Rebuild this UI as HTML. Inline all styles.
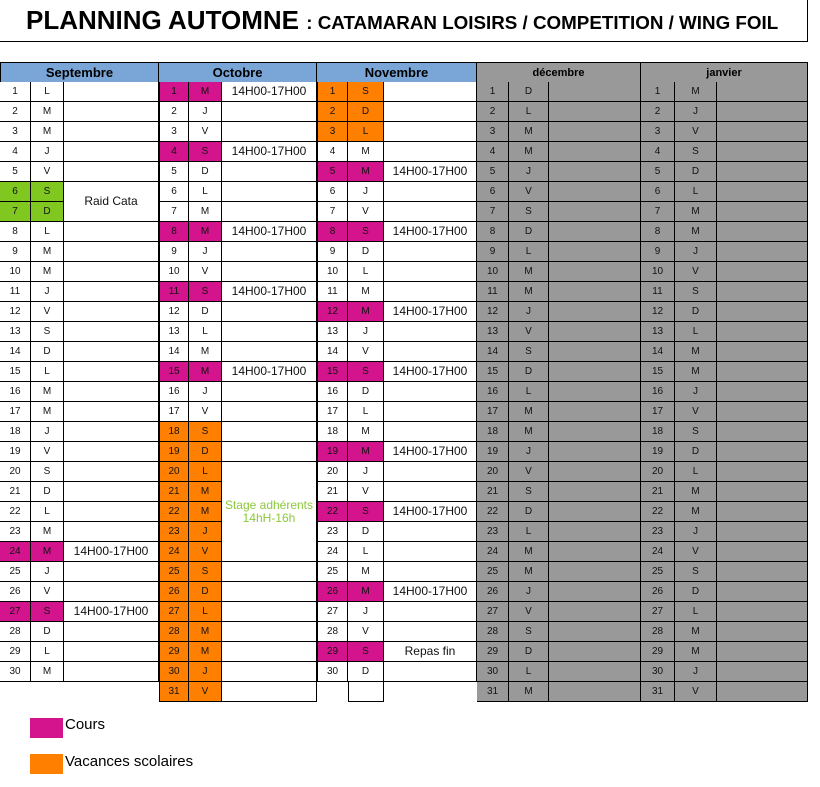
<!DOCTYPE html>
<html><head><meta charset="utf-8"><style>
body{margin:0;background:#fff;width:820px;height:787px;position:relative;overflow:hidden;font-family:"Liberation Sans",Arial,sans-serif}
.c{position:absolute;box-sizing:border-box;border-right:1px solid #000;border-bottom:1px solid #000;text-align:center;font-size:10px;line-height:19px;color:#111}
.h{position:absolute;box-sizing:border-box;text-align:center;font-weight:bold;font-size:13px;line-height:20px;border-right:1px solid #000;border-bottom:1px solid #000;border-top:1px solid #000}
.n{font-size:12px}
</style></head><body>
<div style="position:absolute;left:0;top:0;width:808px;height:42px;border-right:1px solid #000;border-bottom:1px solid #000;box-sizing:border-box"></div>
<div style="position:absolute;left:26px;top:5px;font-weight:bold;font-size:26px;white-space:nowrap">PLANNING AUTOMNE <span style="font-size:18.8px">: CATAMARAN LOISIRS / COMPETITION / WING FOIL</span></div>
<div id="t"></div>
<div style="position:absolute;left:30px;top:718px;width:33px;height:20px;background:#d4148c"></div>
<div style="position:absolute;left:65px;top:716px;font-size:15px">Cours</div>
<div style="position:absolute;left:30px;top:754px;width:33px;height:20px;background:#ff8000"></div>
<div style="position:absolute;left:65px;top:753px;font-size:15px">Vacances scolaires</div>
<script>
var P='#d4148c',O='#ff8000',G='#80c820',GR='#999999',W='#fff';
var months=[
 {name:'Septembre',x:[0,31,64,159],hb:'#79a6d6',days:30,cyc:'LMMJVSD',bg:W,hl:{6:G,7:G,24:P,27:P},notes:{24:'14H00-17H00',27:'14H00-17H00'},merge:{6:[2,'Raid Cata']}},
 {name:'Octobre',x:[159,189,222,317],hb:'#79a6d6',days:31,cyc:'MJVSDLM',bg:W,hl:{1:P,4:P,8:P,11:P,15:P},notes:{1:'14H00-17H00',4:'14H00-17H00',8:'14H00-17H00',11:'14H00-17H00',15:'14H00-17H00'},merge:{20:[5,'Stage adhérents<br>14hH-16h']}},
 {name:'Novembre',x:[317,348,384,477],hb:'#79a6d6',days:30,cyc:'SDLMMJV',bg:W,hl:{1:O,2:O,3:O,5:P,8:P,12:P,15:P,19:P,22:P,26:P,29:P},notes:{5:'14H00-17H00',8:'14H00-17H00',12:'14H00-17H00',15:'14H00-17H00',19:'14H00-17H00',22:'14H00-17H00',26:'14H00-17H00',29:'Repas fin'},merge:{}},
 {name:'décembre',x:[477,509,549,641],hb:GR,days:31,cyc:'DLMMJVS',bg:GR,hl:{},notes:{},merge:{}},
 {name:'janvier',x:[641,675,717,808],hb:GR,days:31,cyc:'MJVSDLM',bg:GR,hl:{},notes:{},merge:{}}
];
for(var d=18;d<=31;d++)months[1].hl[d]=O;
var h='';
months.forEach(function(m,mi){
 var x=m.x;
 h+='<div class="h" style="left:'+x[0]+'px;top:62px;width:'+(x[3]-x[0])+'px;height:21px;background:'+m.hb+';'+(mi>=3?'font-size:11px;':'')+(mi==0?'border-left:1px solid #000;':'')+'">'+m.name+'</div>';
 var skip=0;
 for(var d=1;d<=m.days;d++){
  var y=82+(d-1)*20, bg=m.hl[d]||m.bg;
  h+='<div class="c" style="left:'+x[0]+'px;top:'+y+'px;width:'+(x[1]-x[0])+'px;height:20px;background:'+bg+';'+(mi==1||mi==2?'border-left:1px solid #000;':'')+'">'+d+'</div>';
  h+='<div class="c" style="left:'+x[1]+'px;top:'+y+'px;width:'+(x[2]-x[1])+'px;height:20px;background:'+bg+'">'+m.cyc[(d-1)%7]+'</div>';
  if(m.merge[d]){var k=m.merge[d][0];h+='<div class="c n" style="left:'+x[2]+'px;top:'+y+'px;width:'+(x[3]-x[2])+'px;height:'+(20*k)+'px;background:'+m.bg+';display:flex;align-items:center;justify-content:center;line-height:13px;'+(mi==1?'color:#8cc83c;':'')+'"><span>'+m.merge[d][1]+'</span></div>';skip=k-1;continue;}
  if(skip>0){skip--;continue;}
  h+='<div class="c n" style="left:'+x[2]+'px;top:'+y+'px;width:'+(x[3]-x[2])+'px;height:20px;background:'+m.bg+'">'+(m.notes[d]||'')+'</div>';
 }
});
h+='<div class="c" style="left:348px;top:682px;width:36px;height:20px;border-left:1px solid #000"></div>';
document.getElementById('t').innerHTML=h;
</script>
</body></html>
